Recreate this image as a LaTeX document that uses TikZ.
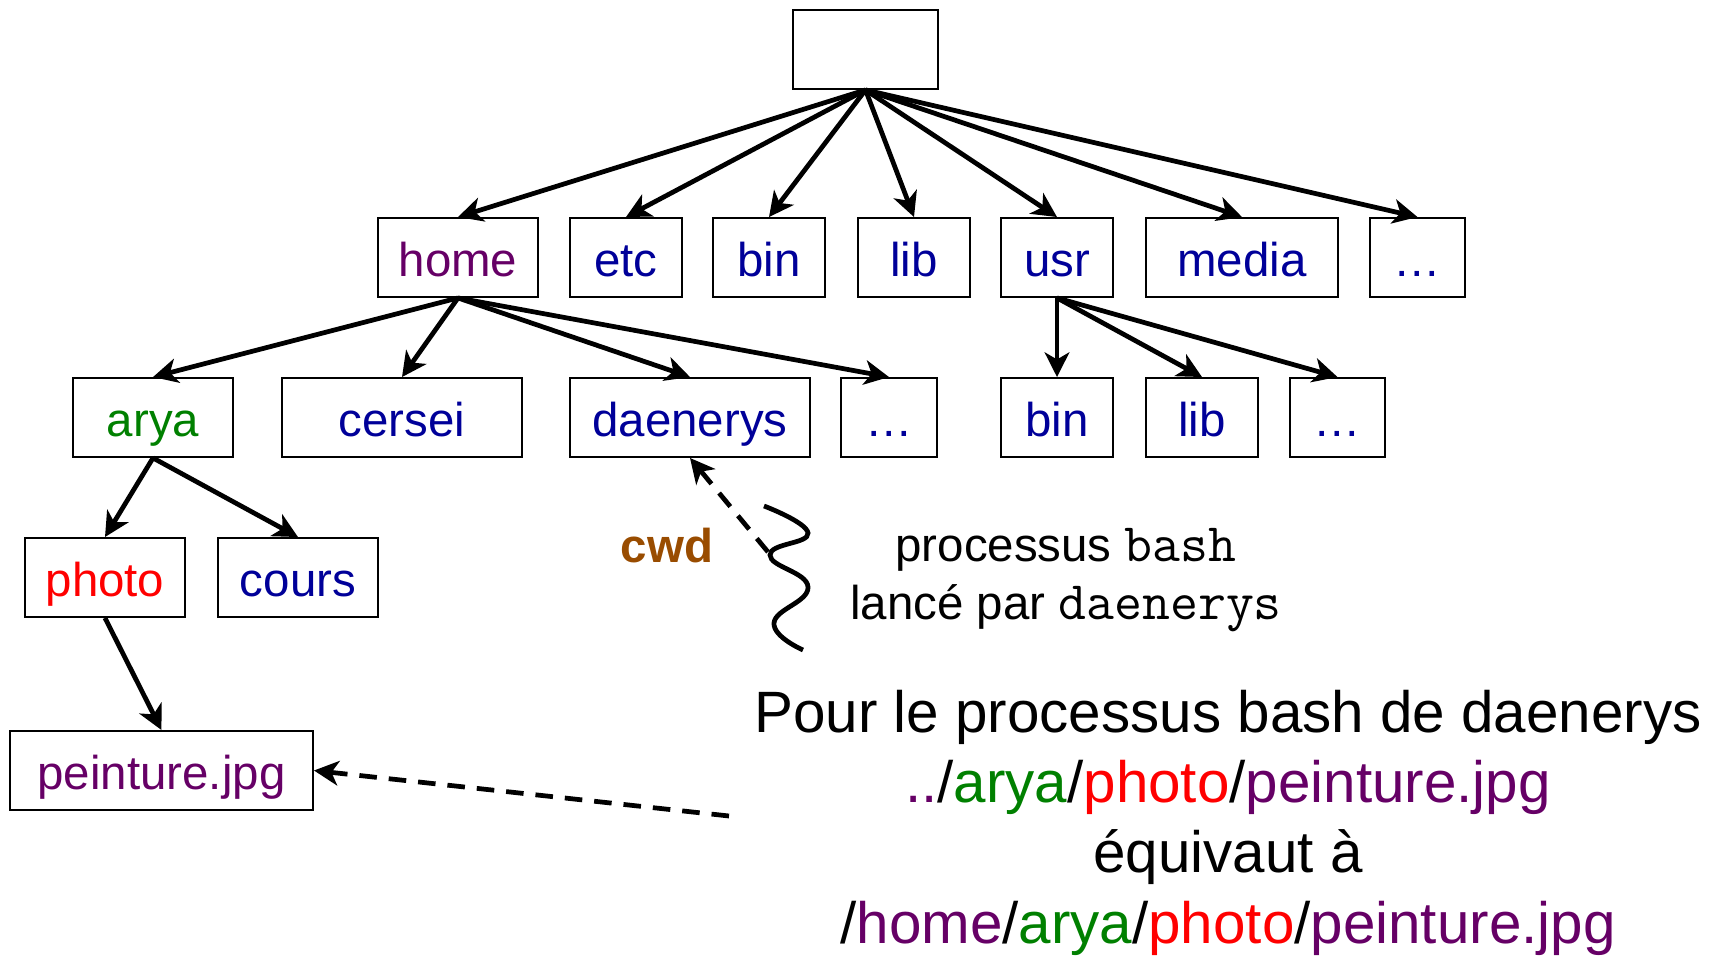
\documentclass[tikz,border=0pt]{standalone}
\usepackage{fontspec}
\setmainfont{Liberation Sans}
\setmonofont{Latin Modern Mono}[Scale=1.143]
\usetikzlibrary{arrows.meta}
\definecolor{hpurple}{RGB}{102,0,102}
\definecolor{hnavy}{RGB}{0,0,153}
\definecolor{hgreen}{RGB}{0,128,0}
\definecolor{hred}{RGB}{255,0,0}
\definecolor{hbrown}{RGB}{153,76,0}

\begin{document}
\begin{tikzpicture}[
        dir/.style={draw, line width=0.55pt, minimum height=0.79cm, inner sep=0pt, text height=13.6pt, text depth=3pt, text=hnavy, font=\fontsize{13.5}{16}\selectfont},
        tree/.style={-{Stealth[length=7pt, width=7pt, inset=2pt]}, line width=1.35pt},
        link/.style={tree, dash pattern=on 5pt off 3.4pt}]
    \useasboundingbox (0,0) rectangle (17.18,9.55);

        % racine
        \node[dir, minimum width=1.45cm] (root) at (8.655, 9.055){};

        % premier niveau
        \node[dir, minimum width=1.60cm, text=hpurple] (home) at (4.58, 6.975){home};
        \node[dir, minimum width=1.12cm] (etc) at (6.26, 6.975){etc};
        \node[dir, minimum width=1.12cm] (bin) at (7.69, 6.975){bin};
        \node[dir, minimum width=1.12cm] (lib) at (9.14, 6.975){lib};
        \node[dir, minimum width=1.12cm] (usr) at (10.57, 6.975){usr};
        \node[dir, minimum width=1.92cm] (media) at (12.42, 6.975){media};
        \node[dir, minimum width=0.95cm] (dots) at (14.175, 6.975){…};

        % second niveau
        \node[dir, minimum width=1.60cm, text=hgreen] (arya) at (1.53, 5.375){arya};
        \node[dir, minimum width=2.40cm] (cersei) at (4.02, 5.375){cersei};
        \node[dir, minimum width=2.40cm] (daen) at (6.90, 5.375){daenerys};
        \node[dir, minimum width=0.96cm] (hdots) at (8.89, 5.375){…};
        \node[dir, minimum width=1.12cm] (ubin) at (10.57, 5.375){bin};
        \node[dir, minimum width=1.12cm] (ulib) at (12.02, 5.375){lib};
        \node[dir, minimum width=0.95cm] (udots) at (13.375, 5.375){…};

        \node[dir, minimum width=1.60cm, text=hred] (photo) at (1.05, 3.775){photo};
        \node[dir, minimum width=1.60cm] (cours) at (2.98, 3.775){cours};
        \node[dir, minimum width=3.03cm, text=hpurple] (pein) at (1.615, 1.845){peinture.jpg};

        % liens
        \draw[tree] (root.south) -- (home.north);
        \draw[tree] (root.south) -- (etc.north);
        \draw[tree] (root.south) -- (bin.north);
        \draw[tree] (root.south) -- (lib.north);
        \draw[tree] (root.south) -- (usr.north);
        \draw[tree] (root.south) -- (media.north);
        \draw[tree] (root.south) -- (dots.north);

        \draw[tree] (home.south) -- (arya.north);
        \draw[tree] (home.south) -- (cersei.north);
        \draw[tree] (home.south) -- (daen.north);
        \draw[tree] (home.south) -- (hdots.north);

        \draw[tree] (usr.south) -- (ubin.north);
        \draw[tree] (usr.south) -- (ulib.north);
        \draw[tree] (usr.south) -- (udots.north);

        \draw[tree] (arya.south) -- (photo.north);
        \draw[tree] (arya.south) -- (cours.north);
        \draw[tree] (photo.south) -- (pein.north);

        % processus
        \draw[line width=1.35pt] plot[smooth, tension=0.8] coordinates {(7.64,4.49) (8.08,4.22) (7.70,4.00) (8.08,3.68) (7.74,3.32) (8.03,3.05)};
        \coordinate (proc) at (7.68, 4.03);
        \draw[link] (proc) -- (daen.south);
        \node[anchor=base, text=hbrown, font=\fontsize{13.5}{16}\selectfont\bfseries] (cwd) at (6.67, 3.93){cwd};
        \node[anchor=base, align=center, font=\fontsize{13.5}{16.5}\selectfont] (ptext) at (10.66, 3.36){processus \texttt{bash}\\lancé par \texttt{daenerys}};

        \node[anchor=base, align=center, font=\fontsize{16.6}{20}\selectfont] (note) at (12.28, 0.12){Pour le processus bash de daenerys\\
            \textcolor{hpurple}{..}/\textcolor{hgreen}{arya}/\textcolor{hred}{photo}/\textcolor{hpurple}{peinture.jpg}\\
            équivaut à\\
            /\textcolor{hpurple}{home}/\textcolor{hgreen}{arya}/\textcolor{hred}{photo}/\textcolor{hpurple}{peinture.jpg}};
        \coordinate (nstart) at (7.29, 1.39);
        \draw[link] (nstart) -- (pein.east);

\end{tikzpicture}
\end{document}
